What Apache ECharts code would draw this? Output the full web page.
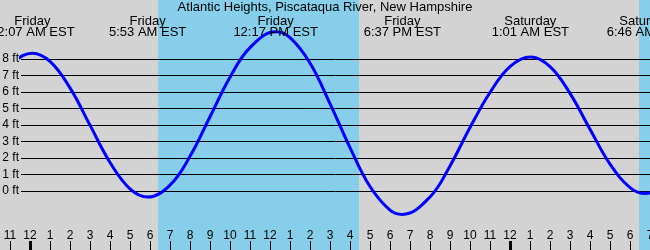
<!DOCTYPE html>
<html>
<head>
<meta charset="utf-8">
<script src="https://cdn.jsdelivr.net/npm/echarts@6/dist/echarts.min.js"></script>
<style>
html,body{margin:0;padding:0;background:#d3d3d3;overflow:hidden;}
#chart{width:650px;height:250px;}
</style>
</head>
<body>
<div id="chart"></div>
<script>
// ---- data (hours counted from Friday 00:00 EST) ----
const tideTimes = [-1.5, -1, 0.117, 1, 2, 3, 4, 5, 5.883, 7, 8, 9, 10, 11, 12.283, 13, 14, 15, 16, 17, 18, 18.617, 20, 21, 22, 23, 24, 25.017, 26, 27, 28, 29, 30, 30.767, 31];
const tideHeights = [6.93, 7.66, 8.35, 7.85, 6.25, 3.99, 1.73, 0.13, -0.37, 0.36, 2.10, 4.50, 6.90, 8.69, 9.65, 9.30, 7.76, 5.30, 2.63, 0.27, -1.16, -1.42, -0.36, 1.52, 3.85, 5.97, 7.54, 8.12, 7.54, 5.92, 3.74, 1.63, 0.21, -0.15, -0.12];

const extremeTimes = [0.117, 5.883, 12.283, 18.617, 25.017, 30.767];
const extremeDays = ['Friday', 'Friday', 'Friday', 'Friday', 'Saturday', 'Saturday'];
const extremeLabels = ['12:07 AM EST', '5:53 AM EST', '12:17 PM EST', '6:37 PM EST', '1:01 AM EST', '6:46 AM EST'];

const daylightStart = [6.4, 30.45];
const daylightEnd = [16.45, 31];

const hourTicks = [-1, 0, 1, 2, 3, 4, 5, 6, 7, 8, 9, 10, 11, 12, 13, 14, 15, 16, 17, 18, 19, 20, 21, 22, 23, 24, 25, 26, 27, 28, 29, 30, 31];
const midnightTicks = [0, 24];
const heightTicks = [0, 1, 2, 3, 4, 5, 6, 7, 8];

const titleText = 'Atlantic Heights, Piscataqua River, New Hampshire';

// ---- layout ----
const W = 650, H = 250;
const X_MIN = -1.5, X_MAX = 31;
const PLOT_LEFT = 21, PLOT_TOP = 59, PLOT_BOTTOM = 59;
const pxPerHour = W / (X_MAX - X_MIN);
const plotXMin = X_MIN + PLOT_LEFT / pxPerHour;
const FONT = '"Liberation Sans", Arial, sans-serif';

function hourLabel(v) {
  const h = ((Math.round(v) % 12) + 12) % 12;
  return String(h === 0 ? 12 : h);
}

const chart = echarts.init(document.getElementById('chart'), null, {renderer: 'canvas'});

const option = {
  backgroundColor: '#d3d3d3',
  animation: false,
  title: {
    text: titleText,
    left: 'center',
    top: 1,
    padding: 0,
    textStyle: {fontFamily: FONT, fontSize: 13, fontWeight: 'normal', color: '#000', lineHeight: 13}
  },
  grid: [
    {left: 0, right: 0, top: 0, bottom: 0, outerBoundsMode: 'none', containLabel: false},
    {left: PLOT_LEFT, right: 0, top: PLOT_TOP, bottom: PLOT_BOTTOM, outerBoundsMode: 'none', containLabel: false}
  ],
  xAxis: [
    {
      gridIndex: 0, type: 'value', min: X_MIN, max: X_MAX, position: 'bottom',
      axisLine: {show: false},
      splitLine: {show: false},
      axisTick: {show: true, inside: true, length: 9, customValues: hourTicks, lineStyle: {color: '#000', width: 1}},
      axisLabel: {show: true, inside: true, margin: 8, customValues: hourTicks, formatter: hourLabel,
        color: '#000', fontFamily: FONT, fontSize: 12, showMinLabel: true, showMaxLabel: true, hideOverlap: false}
    },
    {
      gridIndex: 1, type: 'value', min: plotXMin, max: X_MAX, show: false
    },
    {
      gridIndex: 0, type: 'value', min: X_MIN, max: X_MAX, position: 'bottom',
      axisLine: {show: false},
      splitLine: {show: false},
      axisTick: {show: true, inside: true, length: 9, customValues: midnightTicks, lineStyle: {color: '#000', width: 3}},
      axisLabel: {show: false}
    }
  ],
  yAxis: [
    {gridIndex: 0, type: 'value', min: 0, max: 1, show: false},
    {
      gridIndex: 1, type: 'value', min: 0, max: 8, interval: 1,
      axisLine: {show: false}, axisTick: {show: false},
      splitLine: {show: true, lineStyle: {color: '#000', width: 1}},
      axisLabel: {margin: 2, formatter: '{value} ft', color: '#000', fontFamily: FONT, fontSize: 12,
        customValues: heightTicks}
    }
  ],
  series: [
    {
      type: 'line', xAxisIndex: 0, yAxisIndex: 0, z: 0,
      data: [[X_MIN, 0]], symbol: 'none', lineStyle: {opacity: 0}, silent: true,
      markArea: {
        silent: true, z: -1,
        itemStyle: {color: '#87ceeb', opacity: 1},
        data: daylightStart.map((s, i) => [{xAxis: s}, {xAxis: daylightEnd[i]}])
      }
    },
    {
      type: 'line', xAxisIndex: 1, yAxisIndex: 1, z: 3,
      clip: false, smooth: 0.4, symbol: 'none',
      lineStyle: {color: '#0000ff', width: 3},
      data: tideTimes.map((t, i) => [t, tideHeights[i]])
    }
  ]
};
chart.setOption(option);

const graphics = extremeTimes.map((t, i) => {
  const x = chart.convertToPixel({xAxisIndex: 0}, t);
  return {
    type: 'text', z: 100, x: x, y: 16,
    style: {
      text: extremeDays[i] + '\n' + extremeLabels[i],
      align: 'center', verticalAlign: 'top',
      font: '13px ' + FONT, lineHeight: 11, fill: '#000'
    }
  };
});
chart.setOption({graphic: graphics});
</script>
</body>
</html>
